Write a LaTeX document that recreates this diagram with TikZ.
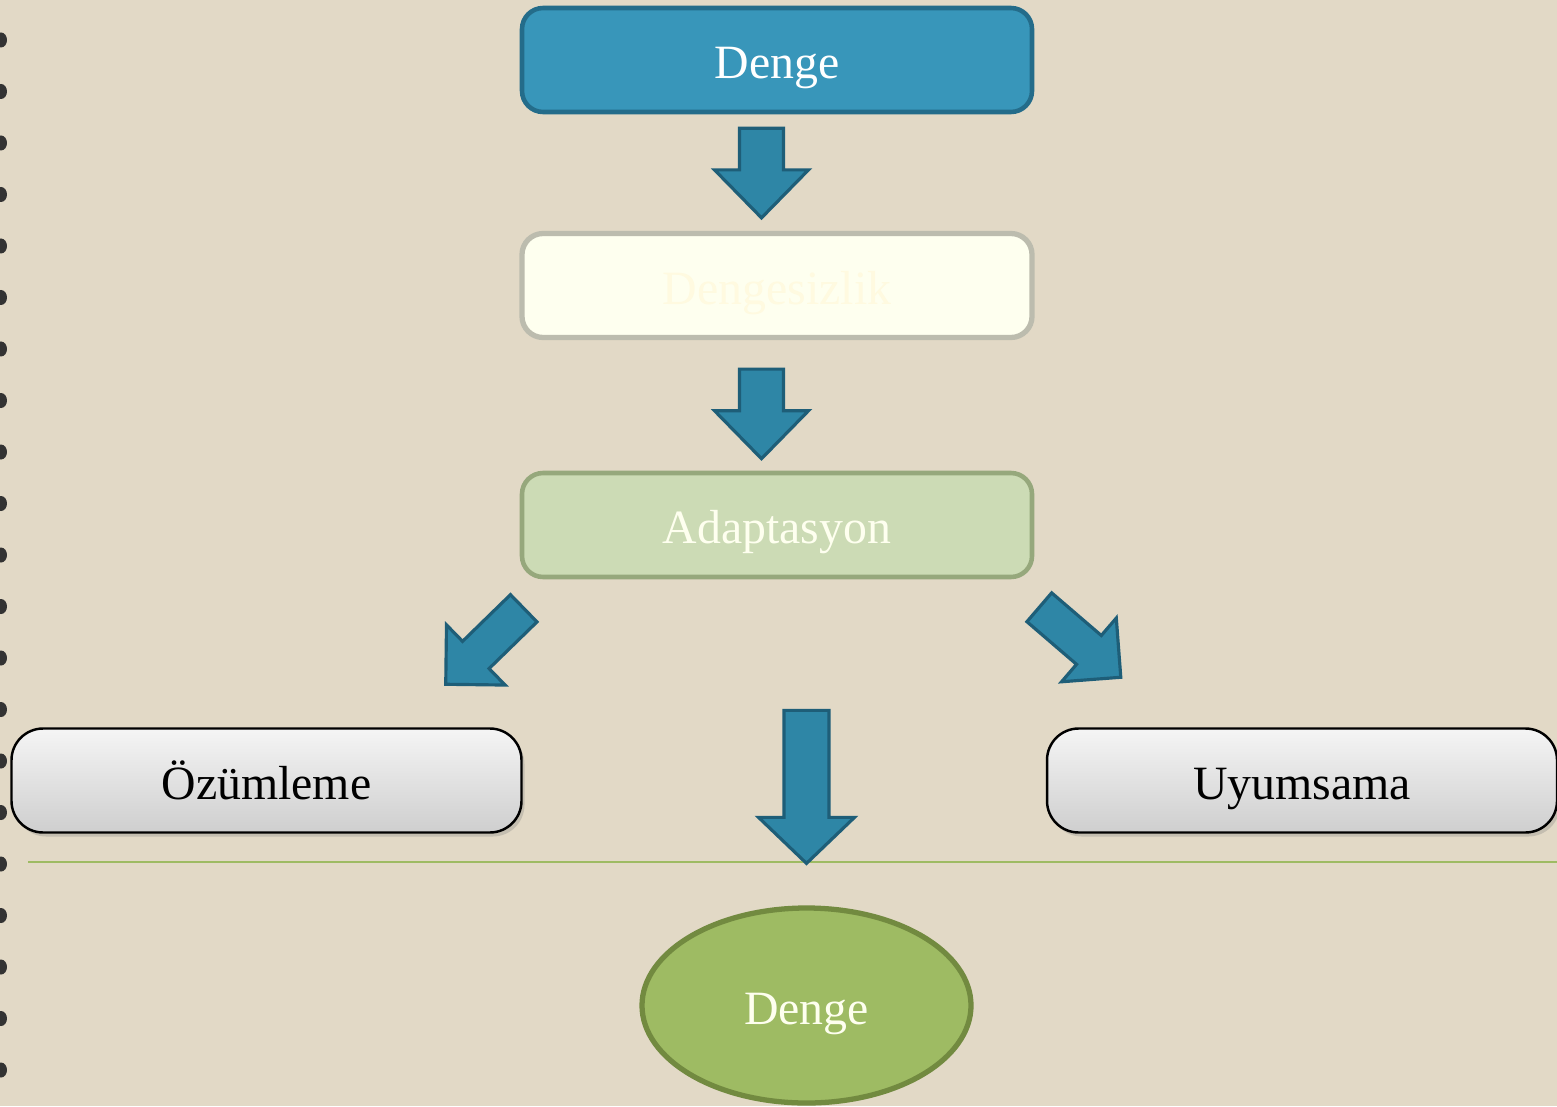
\documentclass[tikz,border=0pt]{standalone}
\usepackage{fontspec}
\setmainfont{Liberation Serif}
\usepackage{tikz}
\usetikzlibrary{calc}
\usetikzlibrary{shapes.geometric}
\usetikzlibrary{shadows}
\usetikzlibrary{positioning}

\definecolor{paper}{RGB}{226,217,198}
\definecolor{tealfill}{RGB}{56,150,186}
\definecolor{tealline}{RGB}{36,108,138}
\definecolor{arrfill}{RGB}{46,134,166}
\definecolor{arrline}{RGB}{30,94,120}
\definecolor{ivory}{RGB}{254,255,239}
\definecolor{ivoryline}{RGB}{188,188,174}
\definecolor{ivorytext}{RGB}{255,250,224}
\definecolor{sagefill}{RGB}{204,219,181}
\definecolor{sageline}{RGB}{150,168,124}
\definecolor{olivefill}{RGB}{158,187,99}
\definecolor{oliveline}{RGB}{114,138,64}

% block arrow: tail, tip, half shaft, half head, head length
\newcommand{\blockarrow}[5]{%
  \coordinate (hb) at ($(#2)!#5!(#1)$);
  \draw[barrow] ($(#1)!#3!90:(#2)$) -- ($(hb)!#3!90:(#2)$) -- ($(hb)!#4!90:(#2)$)
    -- (#2) -- ($(hb)!#4!-90:(#2)$) -- ($(hb)!#3!-90:(#2)$) -- ($(#1)!#3!-90:(#2)$) -- cycle;
}

\begin{document}
\begin{tikzpicture}[
  every node/.style={align=center,font=\fontsize{13.6}{16}\selectfont,text height=10.8pt,text depth=0pt},
  box/.style={draw,rounded corners=6pt,minimum width=5.10cm,minimum height=1.04cm,line width=1.3pt},
  topbox/.style={box,fill=tealfill,draw=tealline,text=white},
  midbox/.style={box,fill=ivory,draw=ivoryline,text=ivorytext,line width=1.5pt},
  adbox/.style={box,fill=sagefill,draw=sageline,text=ivory},
  greybox/.style={draw=black,line width=0.7pt,rounded corners=9pt,minimum width=5.10cm,minimum height=1.04cm,
    top color=gray!8,bottom color=gray!38,
    drop shadow={opacity=0.3,shadow xshift=0.03cm,shadow yshift=-0.04cm}},
  goal/.style={ellipse,draw=oliveline,fill=olivefill,line width=1.5pt,text=ivory,
    minimum width=3.29cm,minimum height=1.95cm},
  barrow/.style={fill=arrfill,draw=arrline,line width=0.9pt,line join=miter},
  sepline/.style={draw=olivefill,line width=0.45pt}]

  % paper and spiral holes
  \fill[paper] (0,0) rectangle (15.57,-11.06);
  \useasboundingbox (0,0) rectangle (15.57,-11.06);
  \foreach \k in {0,...,20}
    \fill[black!80] (0.01,{-0.40-0.515*\k}) ellipse (0.06 and 0.075);

  % Position the nodes
  \node[topbox] (denge) at (7.77,-0.60) {Denge};
  \node[midbox] (dengesizlik) at (7.77,-2.855) {Dengesizlik};
  \node[adbox] (adaptasyon) at (7.77,-5.25) {Adaptasyon};
  \node[greybox] (ozumleme) at (2.665,-7.805) {Özümleme};
  \node[greybox] (uyumsama) at (13.02,-7.805) {Uyumsama};
  \node[goal] (denge2) at (8.065,-10.055) {Denge};

  \draw[sepline] (0.28,-8.62) -- (15.57,-8.62);

  % Draw the arrows between the nodes
  \coordinate (a1t) at ($(denge.south)+(-0.155,-0.14)$);
  \coordinate (a1h) at ($(dengesizlik.north)+(-0.155,0.13)$);
  \coordinate (a2t) at ($(dengesizlik.south)+(-0.155,-0.29)$);
  \coordinate (a2h) at ($(adaptasyon.north)+(-0.155,0.12)$);
  \coordinate (a3t) at ($(adaptasyon.south west)+(0.04,-0.29)$);
  \coordinate (a3h) at ($(ozumleme.north east)+(-0.77,0.43)$);
  \coordinate (a4t) at ($(adaptasyon.south east)+(0.05,-0.28)$);
  \coordinate (a4h) at ($(uyumsama.north west)+(0.75,0.50)$);
  \coordinate (a5t) at ($(denge2.north)+(0,1.95)$);
  \coordinate (a5h) at ($(denge2.north)+(0,0.42)$);

  \blockarrow{a1t}{a1h}{0.22cm}{0.47cm}{0.48cm}
  \blockarrow{a2t}{a2h}{0.22cm}{0.47cm}{0.48cm}
  \blockarrow{a3t}{a3h}{0.19cm}{0.42cm}{0.42cm}
  \blockarrow{a4t}{a4h}{0.19cm}{0.42cm}{0.42cm}
  \blockarrow{a5t}{a5h}{0.225cm}{0.48cm}{0.46cm}
\end{tikzpicture}
\end{document}
